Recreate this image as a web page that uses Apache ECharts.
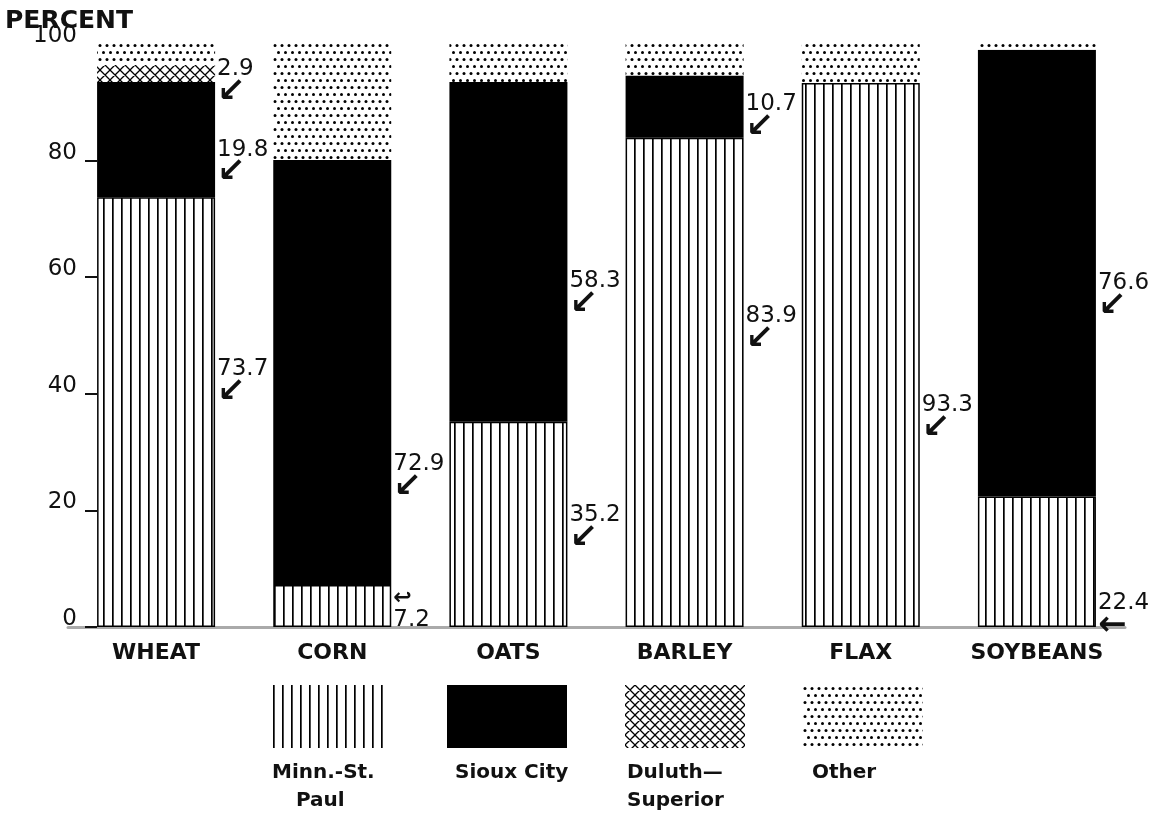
<!DOCTYPE html>
<html><head><meta charset="utf-8">
<script src="https://cdn.jsdelivr.net/npm/echarts@6/dist/echarts.min.js"></script>
<style>html,body{margin:0;padding:0;background:#fff}#c{width:1172px;height:826px}</style>
</head><body><div id="c"></div>
<script>
// ---- data ----
const categories = ['WHEAT', 'CORN', 'OATS', 'BARLEY', 'FLAX', 'SOYBEANS'];
const seriesNames = ['Minn.-St. Paul', 'Sioux City', 'Duluth-Superior', 'Other'];
const minnStPaul = [73.7, 7.2, 35.2, 83.9, 93.3, 22.4];
const siouxCity = [19.8, 72.9, 58.3, 10.7, 0, 76.6];
const duluthSuperior = [2.9, 0, 0, 0, 0, 0];
const other = [3.6, 19.9, 6.5, 5.4, 6.7, 1.0];
const yTickValues = [0, 20, 40, 60, 80, 100];
const legendLabels = [['Minn.-St.', 'Paul'], ['Sioux City'], ['Duluth—', 'Superior'], ['Other']];

// ---- styles ----
const FONT = '"DejaVu Sans", "Liberation Sans", sans-serif';
function mk(w, h, draw) {
  const c = document.createElement('canvas'); c.width = w; c.height = h;
  const g = c.getContext('2d'); g.fillStyle = '#fff'; g.fillRect(0, 0, w, h); draw(g); return c;
}
const vLines = mk(9, 8, g => { g.fillStyle = '#000'; g.fillRect(4, 0, 1.7, 8); });
const dots = mk(7, 14, g => {
  g.fillStyle = '#000';
  [[2, 3.5], [5.5, 10.5]].forEach(p => { g.beginPath(); g.arc(p[0], p[1], 1.5, 0, Math.PI * 2); g.fill(); });
});
const cross = mk(10, 10, g => {
  g.strokeStyle = '#000'; g.lineWidth = 1.3; g.beginPath();
  g.moveTo(-2, -2); g.lineTo(12, 12); g.moveTo(12, -2); g.lineTo(-2, 12);
  g.moveTo(-2, 8); g.lineTo(2, 12); g.moveTo(8, -2); g.lineTo(12, 2);
  g.moveTo(8, 12); g.lineTo(12, 8); g.moveTo(-2, 2); g.lineTo(2, -2);
  g.stroke();
});
const fills = [
  { image: vLines, repeat: 'repeat' },
  '#000',
  { image: cross, repeat: 'repeat' },
  { image: dots, repeat: 'repeat' }
];
// annotation label placement (style only): key = seriesIndex-categoryIndex
const labelStyle = {
  '0-0': { dy: -32 }, '0-1': { dy: 4, arrow: '↩', above: true }, '0-2': { dy: 2 },
  '0-3': { dy: -55 }, '0-4': { dy: 61 }, '0-5': { dy: 52, arrow: '←' },
  '1-0': { dy: 21 }, '1-1': { dy: 103 }, '1-2': { dy: 40 }, '1-3': { dy: 8 }, '1-5': { dy: 21 },
  '2-0': { dy: 7 }
};
const rich = {
  v: { fontFamily: FONT, fontSize: 23, color: '#111', lineHeight: 24 },
  a: { fontFamily: FONT, fontSize: 34, fontWeight: 'bold', color: '#111', lineHeight: 22 },
  s: { fontFamily: FONT, fontSize: 22, fontWeight: 'bold', color: '#111', lineHeight: 20 }
};
function buildData(vals, si) {
  return vals.map((v, ci) => {
    const s = labelStyle[si + '-' + ci];
    if (!s || !v) return v === 0 ? '-' : v;
    const arrow = s.arrow || '↙';
    const txt = s.above ? '{s|' + arrow + '}\n{v|' + v + '}' : '{v|' + v + '}\n{a|' + arrow + '}';
    return {
      value: v,
      label: { show: true, position: 'right', distance: 2, offset: [0, s.dy], formatter: txt, rich: rich, align: 'left' }
    };
  });
}
const allVals = [minnStPaul, siouxCity, duluthSuperior, other];

const chart = echarts.init(document.getElementById('c'));
chart.setOption({
  backgroundColor: '#fff',
  animation: false,
  title: { text: 'PERCENT', left: 0, top: 4, textStyle: { fontFamily: FONT, fontSize: 25, fontWeight: 'bold', color: '#111' } },
  grid: { left: 68, right: 47, top: 44, bottom: 199 },
  legend: {
    data: seriesNames, icon: 'rect', itemWidth: 120, itemHeight: 63, itemGap: 58,
    left: 264, top: 680, selectedMode: false, formatter: () => '',
    itemStyle: { borderWidth: 0 }
  },
  xAxis: {
    type: 'category', data: categories,
    axisLine: { lineStyle: { color: '#aaa', width: 3 } },
    axisTick: { show: false },
    axisLabel: { fontFamily: FONT, fontSize: 22, fontWeight: 'bold', color: '#111', margin: 15 }
  },
  yAxis: {
    type: 'value', min: 0, max: 100, interval: 20, offset: -29,
    axisLine: { show: false },
    splitLine: { show: false },
    axisTick: { show: true, length: 12, lineStyle: { color: '#111', width: 2 }, customValues: yTickValues.slice(0, 5) },
    axisLabel: { fontFamily: FONT, fontSize: 23, color: '#111', margin: 20, verticalAlign: 'bottom', lineHeight: 16, customValues: yTickValues }
  },
  series: allVals.map((vals, si) => ({
    name: seriesNames[si], type: 'bar', stack: 'total', barWidth: 118,
    itemStyle: si === 0 ? { color: fills[si], borderColor: '#000', borderWidth: 1.5 } : { color: fills[si] },
    label: { show: false },
    data: buildData(vals, si)
  })),
  graphic: legendLabels.map((lines, i) => lines.map((t, j) => ({
    type: 'text',
    x: [272, 455, 627, 812][i] + (i === 0 && j === 1 ? 24 : 0),
    y: 773 + j * 28,
    style: { text: t, font: 'bold 20px ' + FONT, fill: '#111', textVerticalAlign: 'middle' }
  }))).flat()
});
</script></body></html>
